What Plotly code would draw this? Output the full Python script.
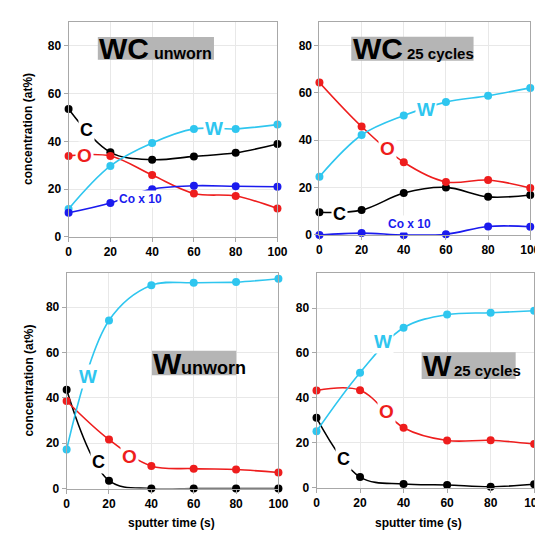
import plotly.graph_objects as go

t = [0, 20, 40, 60, 80, 100]

# WC unworn
wcu_C = [53.5, 35.4, 32.3, 33.7, 35.2, 38.9]
wcu_O = [33.9, 33.9, 25.9, 18.2, 17.1, 11.9]
wcu_W = [11.7, 29.7, 39.3, 45.2, 45.2, 47.0]
wcu_Co = [10.1, 14.2, 20.0, 21.4, 21.2, 21.0]
# WC 25 cycles
wcc_C = [9.6, 10.5, 17.7, 20.1, 16.1, 16.9]
wcc_O = [64.4, 45.8, 30.7, 22.4, 23.2, 19.8]
wcc_W = [24.6, 42.2, 50.4, 56.1, 58.8, 62.1]
wcc_Co = [0.0, 0.8, 0.0, 0.3, 3.6, 3.5]
# W unworn
wu_C = [43.6, 3.5, 0.0, 0.0, 0.0, 0.0]
wu_O = [38.6, 21.6, 10.0, 8.8, 8.4, 7.1]
wu_W = [17.2, 74.1, 89.6, 90.7, 91.0, 92.5]
# W 25 cycles
wc_C = [31.1, 4.7, 1.6, 1.2, 0.4, 1.5]
wc_O = [43.3, 43.4, 26.7, 21.0, 21.1, 19.4]
wc_W = [25.1, 51.2, 71.2, 77.1, 77.9, 78.8]

x_ticks = [0, 20, 40, 60, 80, 100]
y_ticks = [0, 20, 40, 60, 80]

CYAN = "#2fc6ef"
RED = "#ee1d1d"
BLUE = "#1b1bee"
BLACK = "#000000"
FONT = "Arial, Liberation Sans, sans-serif"

fig = go.Figure()

def add(y, color, ax):
    fig.add_trace(go.Scatter(
        x=t, y=y, mode="lines+markers",
        line=dict(color=color, width=1.6, shape="spline", smoothing=1.0),
        marker=dict(color=color, size=8),
        xaxis="x" + ax, yaxis="y" + ax, cliponaxis=False, showlegend=False))

for ys, ax in [((wcu_C, BLACK), "1"), ((wcu_O, RED), "1"), ((wcu_W, CYAN), "1"), ((wcu_Co, BLUE), "1"),
               ((wcc_C, BLACK), "2"), ((wcc_O, RED), "2"), ((wcc_W, CYAN), "2"), ((wcc_Co, BLUE), "2"),
               ((wu_C, BLACK), "3"), ((wu_O, RED), "3"), ((wu_W, CYAN), "3"),
               ((wc_C, BLACK), "4"), ((wc_O, RED), "4"), ((wc_W, CYAN), "4")]:
    add(ys[0], ys[1], "" if ax == "1" else ax)

doms = {
    "1": ([59/543, 273/543], [1-232/533, 1-14/533], [0, 90]),
    "2": ([316/543, 532/543], [1-230/533, 1-14/533], [0, 90]),
    "3": ([57/543, 274/543], [1-487/533, 1-269/533], [0, 94.8]),
    "4": ([313/543, 536/543], [1-486/533, 1-269/533], [0, 95.4]),
}
layout = {}
for k, (dx, dy, yr) in doms.items():
    s = "" if k == "1" else k
    common = dict(showline=True, mirror=True, linecolor="#a8a8a8", linewidth=1,
                  showgrid=True, gridcolor="#e8e8e8", gridwidth=1, zeroline=False,
                  ticks="outside", ticklen=4, tickcolor="#a8a8a8",
                  tickfont=dict(family=FONT, size=12, color="black", weight="bold"))
    layout["xaxis" + s] = dict(domain=dx, range=[0, 100], tickvals=x_ticks,
                               anchor="y" + s, **common)
    layout["yaxis" + s] = dict(domain=dy, range=yr, tickvals=y_ticks,
                               anchor="x" + s, **common)
fig.update_layout(**layout)

ann = []
def lab(text, x, y, ax, color, size):
    s = "" if ax == "1" else ax
    ann.append(dict(text="<b>" + text + "</b>", x=x, y=y, xref="x" + s, yref="y" + s,
                    xanchor="center", yanchor="middle",
                    showarrow=False, bgcolor="white", borderpad=1,
                    font=dict(family=FONT, size=size, color=color)))

lab("C", 8.4, 44.6, "1", BLACK, 18)
lab("O", 7.8, 33.9, "1", RED, 19)
lab("W", 69.6, 45.5, "1", CYAN, 19)
lab("Co x 10", 34.6, 15.9, "1", BLUE, 12)
lab("W", 50.5, 52.9, "2", CYAN, 19)
lab("O", 32.5, 36.7, "2", RED, 19)
lab("C", 9.7, 9.0, "2", BLACK, 18)
lab("Co x 10", 42.8, 4.5, "2", BLUE, 12)
lab("W", 10.0, 49.6, "3", CYAN, 19)
lab("C", 15.0, 11.9, "3", BLACK, 18)
lab("O", 29.9, 14.3, "3", RED, 19)
lab("W", 30.7, 65.0, "4", CYAN, 19)
lab("O", 32.2, 33.9, "4", RED, 19)
lab("C", 12.4, 12.9, "4", BLACK, 18)

shapes = []
def box(ax, x0, x1, y0, y1, big, bx, small, sx, ssize, ty):
    s = "" if ax == "1" else ax
    shapes.append(dict(type="rect", xref="x" + s, yref="y" + s, x0=x0, x1=x1, y0=y0, y1=y1,
                       fillcolor="#b5b5b5", line=dict(width=0), layer="above"))
    ann.append(dict(text="<b>" + big + "</b>", x=bx, y=ty, xref="x" + s, yref="y" + s,
                    xanchor="left", yanchor="middle", showarrow=False,
                    font=dict(family=FONT, size=30, color="black")))
    ann.append(dict(text="<b>" + small + "</b>", x=sx, y=ty - 2.0, xref="x" + s, yref="y" + s,
                    xanchor="left", yanchor="middle", showarrow=False,
                    font=dict(family=FONT, size=ssize, color="black")))

box("1", 14.0, 69.6, 74.1, 83.7, "WC", 13.8, "unworn", 40.0, 16, 78.9)
box("2", 15.1, 73.1, 73.6, 83.7, "WC", 15.0, "25 cycles", 40.5, 15, 78.6)
box("3", 40.3, 80.1, 50.0, 60.7, "W", 39.8, "unworn", 53.0, 18, 55.3)
box("4", 48.3, 91.5, 48.4, 60.3, "W", 47.8, "25 cycles", 62.2, 15, 54.3)

for y0 in [(1 - 123/533), (1 - 378/533)]:
    ann.append(dict(text="<b>concentration (at%)</b>", x=18/543, y=y0, xref="paper", yref="paper",
                    xanchor="center", yanchor="middle",
                    textangle=-90, showarrow=False,
                    font=dict(family=FONT, size=12, color="black")))
for x0 in [164/543, 418/543]:
    ann.append(dict(text="<b>sputter time (s)</b>", x=x0, y=1 - 522/533, xref="paper", yref="paper",
                    xanchor="center", yanchor="middle",
                    showarrow=False, font=dict(family=FONT, size=12, color="black")))

fig.update_layout(annotations=ann, shapes=shapes, width=543, height=533,
                  margin=dict(l=0, r=0, t=0, b=0), plot_bgcolor="white", paper_bgcolor="white")
fig.write_html("out.html")
